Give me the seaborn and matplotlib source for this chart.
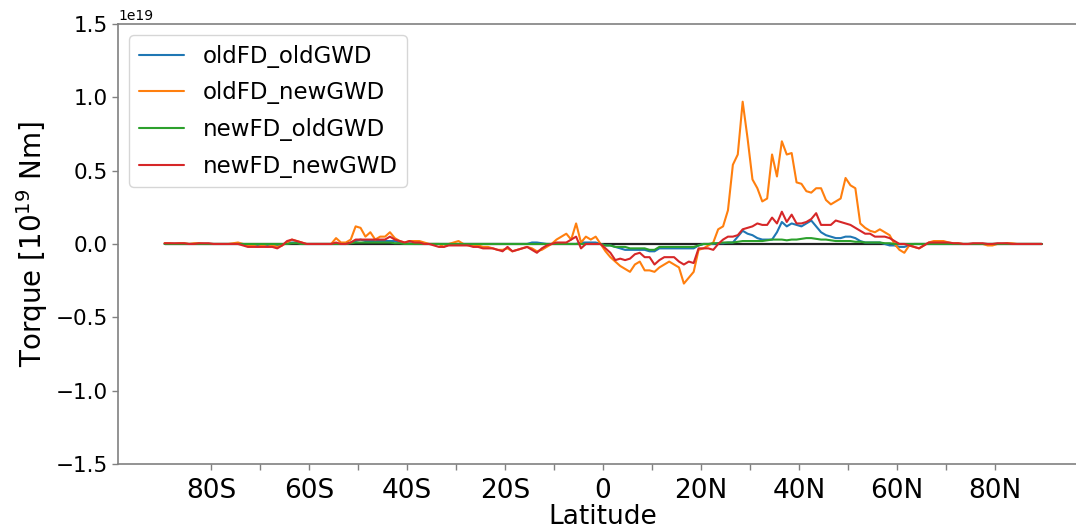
import numpy as np
import pandas as pd
import matplotlib
matplotlib.use("Agg")
import matplotlib.pyplot as plt
import seaborn as sns

# Latitude cell centres (1 degree grid)
lat = np.arange(-89.5, 90.0, 1.0)

# Zonally integrated mountain + GWD torque, in units of 1e19 N m
old_fd_old_gwd = [
    0.0, 0.0, 0.0, 0.0, 0.0, 0.0, 0.0, 0.0, 0.0, 0.0,
    0.0, 0.0, 0.0, 0.0, 0.0, 0.0, 0.0, -0.005, -0.01, -0.01,
    -0.01, -0.01, -0.01, -0.01, -0.005, 0.005, 0.01, 0.01, 0.0, 0.0,
    0.0, 0.0, 0.0, 0.0, 0.0, 0.0, 0.0, 0.0, 0.01, 0.02,
    0.03, 0.02, 0.02, 0.02, 0.02, 0.02, 0.02, 0.02, 0.01, 0.005,
    0.005, 0.0, 0.0, 0.0, 0.0, 0.0, 0.0, 0.0, 0.0, 0.0,
    0.0, 0.0, 0.0, 0.0, 0.0, 0.0, 0.0, 0.0, 0.0, 0.0,
    0.0, 0.0, 0.0, 0.0, 0.0, 0.01, 0.01, 0.005, 0.0, 0.0,
    0.0, 0.0, 0.0, 0.0, 0.0, 0.01, 0.01, 0.01, 0.01, 0.0,
    -0.01, -0.01, -0.02, -0.03, -0.04, -0.04, -0.04, -0.04, -0.04, -0.05,
    -0.05, -0.03, -0.03, -0.03, -0.03, -0.03, -0.03, -0.03, -0.03, -0.01,
    0.0, 0.0, 0.0, 0.005, 0.005, 0.01, 0.01, 0.05, 0.09, 0.07,
    0.06, 0.04, 0.03, 0.03, 0.03, 0.08, 0.15, 0.12, 0.14, 0.13,
    0.12, 0.14, 0.16, 0.12, 0.08, 0.06, 0.05, 0.04, 0.04, 0.05,
    0.05, 0.04, 0.02, 0.01, 0.01, 0.01, 0.01, 0.0, -0.01, -0.01,
    -0.02, -0.02, -0.01, 0.0, 0.0, 0.0, 0.0, 0.0, 0.0, 0.0,
    0.0, 0.0, 0.0, 0.0, 0.0, 0.0, 0.0, 0.0, 0.0, 0.0,
    0.0, 0.0, 0.0, 0.0, 0.0, 0.0, 0.0, 0.0, 0.0, 0.0,
]

old_fd_new_gwd = [
    0.005, 0.005, 0.0, 0.005, 0.005, 0.0, 0.005, 0.005, 0.0, 0.0,
    0.0, 0.0, 0.0, 0.0, 0.005, 0.01, 0.0, -0.01, -0.01, -0.02,
    -0.01, -0.02, -0.01, -0.02, -0.01, 0.01, 0.03, 0.02, 0.01, 0.0,
    0.0, 0.0, 0.0, 0.0, 0.0, 0.04, 0.01, 0.01, 0.03, 0.12,
    0.11, 0.05, 0.08, 0.03, 0.05, 0.05, 0.08, 0.04, 0.02, 0.01,
    0.02, 0.02, 0.02, 0.01, 0.0, 0.0, 0.0, -0.02, 0.0, 0.01,
    0.02, 0.0, -0.01, -0.01, -0.01, -0.02, -0.02, -0.03, -0.04, -0.04,
    -0.03, -0.05, -0.04, -0.03, -0.02, -0.03, -0.05, -0.04, -0.02, 0.0,
    0.03, 0.05, 0.07, 0.03, 0.14, 0.01, 0.05, 0.03, 0.05, 0.0,
    -0.05, -0.09, -0.12, -0.15, -0.17, -0.19, -0.14, -0.12, -0.18, -0.18,
    -0.19, -0.16, -0.14, -0.12, -0.14, -0.16, -0.27, -0.23, -0.19, -0.04,
    -0.03, -0.01, 0.01, 0.10, 0.12, 0.23, 0.54, 0.61, 0.97, 0.72,
    0.44, 0.38, 0.29, 0.31, 0.61, 0.46, 0.70, 0.61, 0.62, 0.42,
    0.41, 0.36, 0.35, 0.38, 0.38, 0.30, 0.27, 0.29, 0.31, 0.45,
    0.40, 0.38, 0.14, 0.11, 0.09, 0.08, 0.10, 0.08, 0.06, 0.0,
    -0.04, -0.06, -0.01, -0.02, -0.03, -0.01, 0.01, 0.02, 0.02, 0.02,
    0.01, 0.005, 0.005, 0.0, 0.0, 0.0, 0.0, 0.0, -0.01, -0.01,
    0.0, 0.0, 0.005, 0.005, 0.0, 0.0, 0.0, 0.0, 0.0, 0.0,
]

new_fd_old_gwd = [
    0.0, 0.0, 0.0, 0.0, 0.0, 0.0, 0.0, 0.0, 0.0, 0.0,
    0.0, 0.0, 0.0, 0.0, 0.0, 0.0, 0.0, 0.0, 0.0, 0.0,
    0.0, 0.0, 0.0, 0.0, 0.0, 0.0, 0.005, 0.005, 0.0, 0.0,
    0.0, 0.0, 0.0, 0.0, 0.0, 0.0, 0.0, 0.0, 0.005, 0.01,
    0.01, 0.01, 0.01, 0.01, 0.01, 0.01, 0.01, 0.005, 0.005, 0.0,
    0.0, 0.0, 0.0, 0.0, 0.0, 0.0, 0.0, 0.0, 0.0, 0.0,
    0.0, 0.0, 0.0, 0.0, 0.0, 0.0, 0.0, 0.0, 0.0, 0.0,
    0.0, 0.0, 0.0, 0.0, 0.0, 0.0, 0.0, 0.0, 0.0, 0.0,
    0.0, 0.0, 0.0, 0.0, 0.0, 0.0, 0.0, 0.0, 0.0, 0.0,
    -0.01, -0.01, -0.02, -0.02, -0.02, -0.03, -0.03, -0.03, -0.03, -0.04,
    -0.04, -0.02, -0.02, -0.02, -0.02, -0.02, -0.02, -0.02, -0.02, -0.01,
    0.0, 0.0, 0.005, 0.005, 0.01, 0.01, 0.01, 0.015, 0.02, 0.02,
    0.02, 0.02, 0.02, 0.025, 0.03, 0.03, 0.03, 0.025, 0.03, 0.03,
    0.035, 0.04, 0.04, 0.035, 0.03, 0.03, 0.025, 0.02, 0.02, 0.02,
    0.02, 0.015, 0.015, 0.01, 0.01, 0.01, 0.01, 0.005, 0.005, 0.0,
    0.0, 0.0, 0.0, 0.0, 0.0, 0.0, 0.0, 0.0, 0.0, 0.0,
    0.0, 0.0, 0.0, 0.0, 0.0, 0.0, 0.0, 0.0, 0.0, 0.0,
    0.0, 0.0, 0.0, 0.0, 0.0, 0.0, 0.0, 0.0, 0.0, 0.0,
]

new_fd_new_gwd = [
    0.005, 0.005, 0.005, 0.005, 0.005, 0.0, 0.0, 0.005, 0.005, 0.005,
    0.0, 0.0, 0.0, 0.0, 0.0, 0.0, -0.01, -0.02, -0.02, -0.02,
    -0.02, -0.02, -0.02, -0.03, -0.01, 0.02, 0.03, 0.02, 0.01, 0.0,
    0.0, 0.0, 0.0, 0.0, 0.0, 0.01, 0.0, 0.0, 0.01, 0.03,
    0.03, 0.03, 0.03, 0.03, 0.03, 0.03, 0.05, 0.03, 0.02, 0.01,
    0.02, 0.01, 0.01, 0.0, 0.0, -0.01, -0.02, -0.02, -0.01, -0.01,
    -0.01, -0.01, -0.01, -0.02, -0.02, -0.03, -0.03, -0.03, -0.04, -0.05,
    -0.02, -0.05, -0.04, -0.03, -0.02, -0.04, -0.06, -0.03, -0.01, 0.0,
    0.01, 0.01, 0.01, 0.03, 0.05, -0.03, 0.0, 0.0, 0.0, 0.0,
    -0.03, -0.06, -0.11, -0.10, -0.11, -0.10, -0.07, -0.06, -0.09, -0.09,
    -0.14, -0.11, -0.09, -0.09, -0.09, -0.12, -0.14, -0.12, -0.13, -0.03,
    -0.03, -0.03, -0.04, 0.0, 0.03, 0.05, 0.05, 0.06, 0.10, 0.11,
    0.12, 0.14, 0.13, 0.13, 0.18, 0.14, 0.22, 0.15, 0.20, 0.14,
    0.14, 0.15, 0.17, 0.21, 0.13, 0.13, 0.13, 0.16, 0.15, 0.14,
    0.13, 0.11, 0.09, 0.07, 0.07, 0.05, 0.05, 0.05, 0.04, 0.02,
    0.0, 0.0, -0.01, -0.02, -0.03, -0.01, 0.01, 0.01, 0.01, 0.01,
    0.01, 0.005, 0.005, 0.0, 0.0, 0.005, 0.005, 0.005, 0.0, 0.0,
    0.005, 0.005, 0.005, 0.0, 0.0, 0.0, 0.0, 0.0, 0.0, 0.0,
]

series_names = ["oldFD_oldGWD", "oldFD_newGWD", "newFD_oldGWD", "newFD_newGWD"]
series_colors = ["#1f77b4", "#ff7f0e", "#2ca02c", "#d62728"]
xtick_pos = list(range(-80, 90, 10))
xtick_labels = ["80S", "", "60S", "", "40S", "", "20S", "", "0",
                "", "20N", "", "40N", "", "60N", "", "80N"]
ytick_pos = [-1.5, -1.0, -0.5, 0.0, 0.5, 1.0, 1.5]

scale = 1e19
frames = []
for name, vals in zip(series_names,
                      [old_fd_old_gwd, old_fd_new_gwd, new_fd_old_gwd, new_fd_new_gwd]):
    frames.append(pd.DataFrame({"lat": lat, "torque": np.asarray(vals) * scale,
                                "run": name}))
df = pd.concat(frames, ignore_index=True)

sns.set_style("white")
plt.rcParams["font.family"] = ["DejaVu Sans"]
plt.rcParams["text.color"] = "black"
plt.rcParams["axes.labelcolor"] = "black"

fig = plt.figure(figsize=(10.76, 5.29), dpi=100)
ax = fig.add_axes([0.1097, 0.1229, 0.9015, 0.8318])

# zero reference line across the latitude range
ax.plot([lat[0], lat[-1]], [0.0, 0.0], color="#222222", lw=1.6, zorder=1)

sns.lineplot(data=df, x="lat", y="torque", hue="run", hue_order=series_names,
             palette=series_colors, linewidth=1.5, ax=ax, zorder=2)

ax.set_xlim(-99, 99)
ax.set_ylim(-1.5 * scale, 1.5 * scale)
ax.set_xticks(xtick_pos)
ax.set_xticklabels(xtick_labels)
ax.set_yticks([v * scale for v in ytick_pos])

for side in ["left", "top", "bottom"]:
    ax.spines[side].set_color("#808080")
    ax.spines[side].set_linewidth(1.2)
ax.spines["right"].set_visible(False)
ax.tick_params(axis="x", labelsize=19, length=4, width=1, color="#808080",
               labelcolor="black", direction="out", bottom=True, pad=6)
ax.tick_params(axis="y", labelsize=15.5, length=4, width=1, color="#808080",
               labelcolor="black", direction="out", left=True)
ax.yaxis.get_offset_text().set_fontsize(10)
ax.yaxis.get_offset_text().set_color("black")

ax.set_xlabel("Latitude", fontsize=19, labelpad=0)
ax.set_ylabel("Torque [10$^{19}$ Nm]", fontsize=20)

leg = ax.legend(loc="upper left", fontsize=16.5, handlelength=2.0,
                labelspacing=0.6, frameon=True, borderaxespad=0.5)
for text in leg.get_texts():
    text.set_color("black")
for line in leg.get_lines():
    line.set_linewidth(1.5)

fig.savefig("out.png", dpi=100)
